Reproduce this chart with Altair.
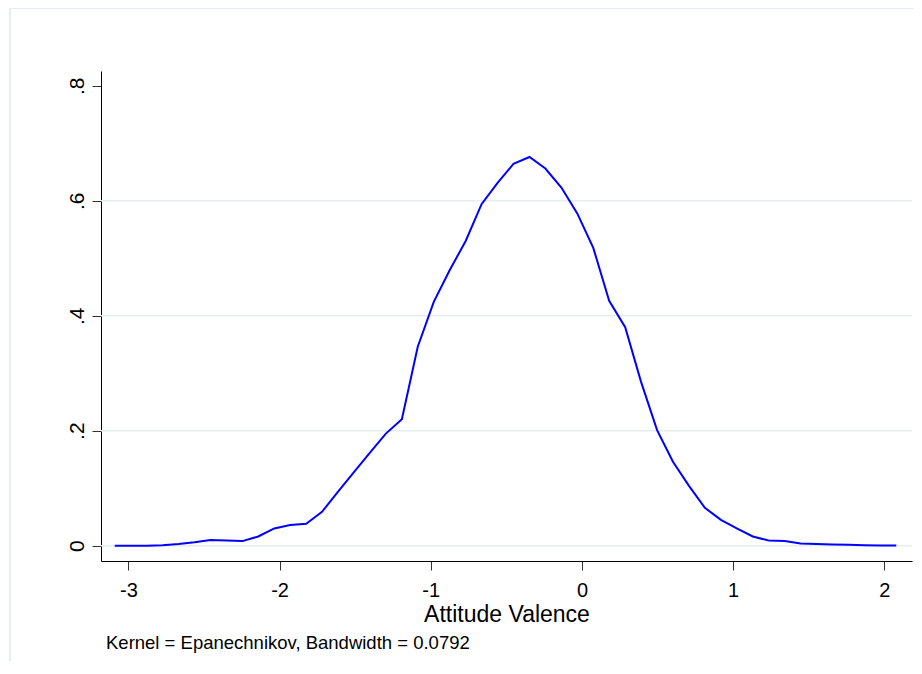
import altair as alt
import pandas as pd

# Kernel density estimate (50 evaluation points)
x_vals = [-3.090, -2.985, -2.879, -2.774, -2.668, -2.563, -2.457, -2.352, -2.246, -2.141,
          -2.035, -1.930, -1.824, -1.719, -1.613, -1.508, -1.402, -1.297, -1.191, -1.086,
          -0.980, -0.875, -0.769, -0.664, -0.558, -0.453, -0.347, -0.242, -0.136, -0.031,
          0.075, 0.180, 0.286, 0.391, 0.497, 0.602, 0.708, 0.813, 0.919, 1.024,
          1.130, 1.235, 1.341, 1.446, 1.552, 1.657, 1.763, 1.868, 1.974, 2.079]
density = [0.000, 0.000, 0.000, 0.001, 0.003, 0.006, 0.010, 0.009, 0.008, 0.016,
           0.030, 0.036, 0.038, 0.059, 0.094, 0.128, 0.162, 0.195, 0.220, 0.346,
           0.424, 0.479, 0.530, 0.594, 0.631, 0.664, 0.676, 0.656, 0.623, 0.578,
           0.518, 0.426, 0.380, 0.285, 0.201, 0.146, 0.104, 0.066, 0.045, 0.030,
           0.016, 0.009, 0.008, 0.004, 0.003, 0.002, 0.0015, 0.001, 0.0005, 0.0003]

x_ticks = [-3, -2, -1, 0, 1, 2]
y_ticks = [0, 0.2, 0.4, 0.6, 0.8]
grid_lines = [0, 0.2, 0.4, 0.6]

x_title = "Attitude Valence"
note = "Kernel = Epanechnikov, Bandwidth = 0.0792"

FONT = "Liberation Sans, Arial, Helvetica, sans-serif"

df = pd.DataFrame({"x": x_vals, "y": density})
grid_df = pd.DataFrame({"g": grid_lines})

x_scale = alt.Scale(domain=[-3.181, 2.183], nice=False, zero=False)
y_scale = alt.Scale(domain=[-0.0266, 0.8256], nice=False, zero=False)

x_axis = alt.Axis(
    values=x_ticks,
    title=x_title,
    grid=False,
    labelExpr="datum.value < 0 ? '-' + abs(datum.value) : '' + datum.value",
    labelFontSize=20,
    labelBaseline="alphabetic",
    labelPadding=26,
    titleFontSize=23,
    titleY=60,
    titleBaseline="alphabetic",
)
y_axis = alt.Axis(
    values=y_ticks,
    title=None,
    grid=False,
    labelExpr="datum.value == 0 ? '0' : replace(format(datum.value, '.1f'), '0.', '.')",
    labelAngle=270,
    labelAlign="center",
    labelBaseline="alphabetic",
    labelFontSize=21,
    labelPadding=9,
)

frame = alt.Chart(alt.Data(values=[{}])).mark_rect(
    fill=None, stroke="#e6eef0", strokeWidth=2, clip=False
).encode(
    x=alt.value(-91), x2=alt.value(900), y=alt.value(-63), y2=alt.value(700)
)

grid = alt.Chart(grid_df).mark_rule(color="#e6eef0", strokeWidth=1.6).encode(
    y=alt.Y("g:Q", scale=y_scale, axis=y_axis),
)

line = alt.Chart(df).mark_line(color="#0000ff", strokeWidth=2).encode(
    x=alt.X("x:Q", scale=x_scale, axis=x_axis),
    y=alt.Y("y:Q", scale=y_scale, axis=y_axis),
)

footnote = alt.Chart(alt.Data(values=[{}])).mark_text(
    align="left", baseline="alphabetic", fontSize=18.5, font=FONT, color="black", clip=False
).encode(
    x=alt.value(5), y=alt.value(578), text=alt.value(note)
)

chart = alt.layer(frame, grid, line, footnote).properties(
    width=811,
    height=490,
    autosize=alt.AutoSizeParams(type="none"),
    padding={"left": 93, "top": 63, "right": 2, "bottom": 100},
    background="white",
).configure_view(stroke=None).configure_axis(
    labelFont=FONT,
    titleFont=FONT,
    labelColor="black",
    titleColor="black",
    titleFontWeight="normal",
    domainColor="black",
    domainWidth=1,
    tickColor="#333333",
    tickWidth=1,
    tickSize=9,
)

chart.save("out.html", embed_options={"renderer": "svg", "actions": False})
